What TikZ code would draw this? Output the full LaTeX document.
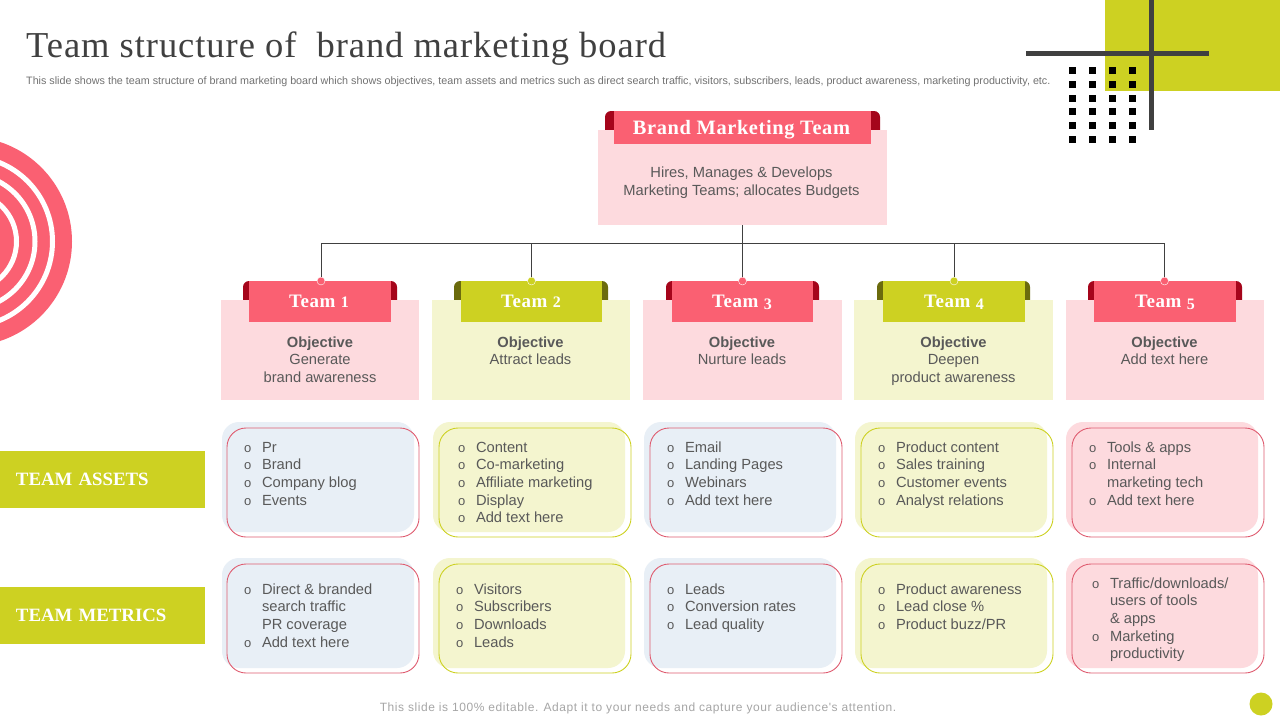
\documentclass[tikz,border=0pt]{standalone}
\usepackage{fontspec}
\setmainfont{Liberation Sans}
\newfontfamily\serT[LetterSpace=2.6]{Liberation Serif}
\newfontfamily\serH[LetterSpace=3]{Liberation Serif}
\newfontfamily\serS{Liberation Serif}
\newfontfamily\sans[LetterSpace=4.8]{Liberation Sans}
\definecolor{lime}{HTML}{CDD122}
\definecolor{coral}{HTML}{FA6072}
\definecolor{lpink}{HTML}{FDDADE}
\definecolor{dred}{HTML}{A5051B}
\definecolor{olive}{HTML}{6B6B0D}
\definecolor{pgreen}{HTML}{F4F5CF}
\definecolor{lblue}{HTML}{E8EFF6}
\definecolor{ink}{HTML}{595959}
\definecolor{bar}{HTML}{404040}
\definecolor{edgepink}{HTML}{DF5C70}
\definecolor{edgelime}{HTML}{CDD122}
\newcommand\bul{\leavevmode\strut\llap{\makebox[18pt][l]{\fontsize{13}{13}\selectfont o}}}
\newcommand\low[1]{\raisebox{-2.5pt}{\fontsize{16}{16}\selectfont #1}}
\newcommand\up[1]{{\fontsize{16}{16}\selectfont #1}}
\tikzset{
  x=1pt,y=-1pt,
  blockbox/.style={inner sep=0pt,outer sep=0pt,align=center},
  headtext/.style={blockbox,anchor=base,text=white,font=\serH\bfseries\fontsize{19}{22}\selectfont},
  bodytext/.style={blockbox,text=ink,font=\fontsize{14.7}{17.6}\selectfont},
  listtext/.style={inner sep=0pt,outer sep=0pt,anchor=north west,align=left,text=ink,font=\fontsize{14.7}{17.6}\selectfont},
  cardfill/.style={inner sep=0pt,outer sep=0pt,rounded corners=17pt},
  cardline/.style={inner sep=0pt,outer sep=0pt,rounded corners=19pt,draw,line width=0.9pt},
  tabbox/.style={inner sep=0pt,outer sep=0pt,rounded corners=6pt},
  conn/.style={draw=bar,line width=0.8pt},
  pin/.style={circle,inner sep=0pt,outer sep=0pt,minimum size=8pt,draw=white,line width=0.4pt},
  sidebox/.style={inner sep=0pt,outer sep=0pt,fill=lime,text=white,anchor=north west,minimum width=205pt,minimum height=57pt,font=\serS\bfseries\fontsize{18.8}{22}\selectfont,text width=189pt,align=left},
  dotsq/.style={fill=black},
}
% \BX{name}{x1}{y1}{x2}{y2}{style}{text}
\newcommand\BX[7]{%
  \pgfmathsetmacro\bxw{#4-#2}\pgfmathsetmacro\bxh{#5-#3}%
  \pgfmathsetmacro\bxx{(#2+#4)/2}\pgfmathsetmacro\bxy{(#3+#5)/2}%
  \node[inner sep=0pt,outer sep=0pt,minimum width=\bxw pt,minimum height=\bxh pt,#6] (#1) at (\bxx,\bxy) {#7};}
\begin{document}
\begin{tikzpicture}
\useasboundingbox (0,0) rectangle (1280,720);
\fill[white] (0,0) rectangle (1280,720);
% decorations
\begin{scope}
\clip (0,0) rectangle (1280,720);
\fill[coral] (-32.75,241.5) circle[radius=104.75];
\foreach \r in {85.25,67.75,49.25} \draw[white,line width=5pt] (-32.75,241.5) circle[radius=\r];
\fill[lime] (1105,0) rectangle (1280,91);
\foreach \dx in {1069,1089,1109,1129}
  \foreach \dy in {67,81,95,108,122,136}
    \fill[dotsq] (\dx,\dy) rectangle ++(7,7);
\fill[bar] (1026,51) rectangle (1209,56);
\fill[bar] (1149,0) rectangle (1154,130);
\fill[lime] (1261,704) circle[radius=11.5];
\end{scope}
% title
\node[inner sep=0pt,anchor=base west,text=bar,font=\serT\fontsize{36.5}{40}\selectfont] (title) at (26,57) {Team structure of \ brand marketing board};
\node[inner sep=0pt,anchor=base west,text=ink!85,font=\fontsize{10.75}{12}\selectfont] (subtitle) at (26,84) {This slide shows the team structure of brand marketing board which shows objectives, team assets and metrics such as direct search traffic, visitors, subscribers, leads, product awareness, marketing productivity, etc.};
\node[inner sep=0pt,anchor=base,text=black!35,font=\sans\fontsize{12}{14}\selectfont] (footer) at (638,711) {This slide is 100\% editable. Adapt it to your needs and capture your audience's attention.};
% root
\BX{roottab}{605}{111}{880}{142}{tabbox,fill=dred}{}
\BX{root}{598}{130}{887}{225}{fill=lpink}{}
\node[bodytext] (roottext) at (741.5,182.5) {Hires, Manages \& Develops\\Marketing Teams; allocates Budgets};
\BX{roothead}{614}{111}{871}{144}{fill=coral}{}
\node[headtext,font=\serH\bfseries\fontsize{20.4}{24}\selectfont] (roottitle) at (741.5,134) {Brand Marketing Team};
% teams: tab, body, header
\BX{tab1}{243}{281}{397}{312}{tabbox,fill=dred}{}
\BX{body1}{221}{300}{419}{400}{fill=lpink}{}
\BX{head1}{249}{281}{391}{322}{fill=coral}{}
\node[headtext] (lab1) at (319,307) {Team \up{1}};
\node[bodytext,anchor=north] (txt1) at (320,335) {\strut\textbf{Objective}\\Generate\\brand awareness};

\BX{tab2}{454}{281}{608}{312}{tabbox,fill=olive}{}
\BX{body2}{432}{300}{630}{400}{fill=pgreen}{}
\BX{head2}{461}{281}{602}{322}{fill=lime}{}
\node[headtext] (lab2) at (531,307) {Team \up{2}};
\node[bodytext,anchor=north] (txt2) at (530.5,335) {\strut\textbf{Objective}\\Attract leads};

\BX{tab3}{666}{281}{819}{312}{tabbox,fill=dred}{}
\BX{body3}{643}{300}{842}{400}{fill=lpink}{}
\BX{head3}{672}{281}{813}{322}{fill=coral}{}
\node[headtext] (lab3) at (742,307) {Team \low{3}};
\node[bodytext,anchor=north] (txt3) at (742,335) {\strut\textbf{Objective}\\Nurture leads};

\BX{tab4}{877}{281}{1030}{312}{tabbox,fill=olive}{}
\BX{body4}{854}{300}{1053}{400}{fill=pgreen}{}
\BX{head4}{883}{281}{1025}{322}{fill=lime}{}
\node[headtext] (lab4) at (954,307) {Team \low{4}};
\node[bodytext,anchor=north] (txt4) at (953.5,335) {\strut\textbf{Objective}\\Deepen\\product awareness};

\BX{tab5}{1088}{281}{1242}{312}{tabbox,fill=dred}{}
\BX{body5}{1066}{300}{1264}{400}{fill=lpink}{}
\BX{head5}{1094}{281}{1236}{322}{fill=coral}{}
\node[headtext] (lab5) at (1165,307) {Team \low{5}};
\node[bodytext,anchor=north] (txt5) at (1164.5,335) {\strut\textbf{Objective}\\Add text here};
% connectors
\coordinate (bus) at (742.5,243);
\node[pin,fill=coral] (pin1) at (321,281) {};
\node[pin,fill=lime] (pin2) at (531.5,281) {};
\node[pin,fill=coral] (pin3) at (742.5,281) {};
\node[pin,fill=lime] (pin4) at (954,281) {};
\node[pin,fill=coral] (pin5) at (1164.5,281) {};
\draw[conn] (root.south) -- (bus);
\foreach \i in {1,...,5} \draw[conn] (bus) -| (pin\i.north);
% side labels
\node[sidebox] (assets) at (0,451) {\hspace*{8pt}TEAM ASSETS};
\node[sidebox] (metrics) at (0,587) {\hspace*{8pt}TEAM METRICS};
% cards row 1
\BX{af1}{222}{422}{414}{532}{cardfill,fill=lblue}{}
\BX{al1}{227}{428}{419}{537}{cardline,draw=edgepink}{}
\BX{af2}{433}{422}{625}{532}{cardfill,fill=pgreen}{}
\BX{al2}{439}{428}{631}{537}{cardline,draw=edgelime}{}
\BX{af3}{644}{422}{836}{532}{cardfill,fill=lblue}{}
\BX{al3}{650}{428}{842}{537}{cardline,draw=edgepink}{}
\BX{af4}{855}{422}{1047}{532}{cardfill,fill=pgreen}{}
\BX{al4}{861}{428}{1053}{537}{cardline,draw=edgelime}{}
\BX{af5}{1066}{422}{1258}{532}{cardfill,fill=lpink}{}
\BX{al5}{1072}{428}{1264}{537}{cardline,draw=edgepink}{}
% cards row 2
\BX{mf1}{222}{558}{414}{668}{cardfill,fill=lblue}{}
\BX{ml1}{227}{564}{419}{673}{cardline,draw=edgepink}{}
\BX{mf2}{433}{558}{625}{668}{cardfill,fill=pgreen}{}
\BX{ml2}{439}{564}{631}{673}{cardline,draw=edgelime}{}
\BX{mf3}{644}{558}{836}{668}{cardfill,fill=lblue}{}
\BX{ml3}{650}{564}{842}{673}{cardline,draw=edgepink}{}
\BX{mf4}{855}{558}{1047}{668}{cardfill,fill=pgreen}{}
\BX{ml4}{861}{564}{1053}{673}{cardline,draw=edgelime}{}
\BX{mf5}{1066}{558}{1258}{668}{cardfill,fill=lpink}{}
\BX{ml5}{1072}{564}{1264}{673}{cardline,draw=edgepink}{}
% lists
\node[listtext] (la1) at (262,440) {\bul Pr\\\bul Brand\\\bul Company blog\\\bul Events};
\node[listtext] (la2) at (476,440) {\bul Content\\\bul Co-marketing\\\bul Affiliate marketing\\\bul Display\\\bul Add text here};
\node[listtext] (la3) at (685,440) {\bul Email\\\bul Landing Pages\\\bul Webinars\\\bul Add text here};
\node[listtext] (la4) at (896,440) {\bul Product content\\\bul Sales training\\\bul Customer events\\\bul Analyst relations};
\node[listtext] (la5) at (1107,440) {\bul Tools \& apps\\\bul Internal\\\strut marketing tech\\\bul Add text here};
\node[listtext] (lm1) at (262,582) {\bul Direct \& branded\\\strut search traffic\\\strut PR coverage\\\bul Add text here};
\node[listtext] (lm2) at (474,582) {\bul Visitors\\\bul Subscribers\\\bul Downloads\\\bul Leads};
\node[listtext] (lm3) at (685,582) {\bul Leads\\\bul Conversion rates\\\bul Lead quality};
\node[listtext] (lm4) at (896,582) {\bul Product awareness\\\bul Lead close \%\\\bul Product buzz/PR};
\node[listtext] (lm5) at (1110,576) {\bul Traffic/downloads/\\\strut users of tools\\\strut \& apps\\\bul Marketing\\\strut productivity};
\end{tikzpicture}
\end{document}
